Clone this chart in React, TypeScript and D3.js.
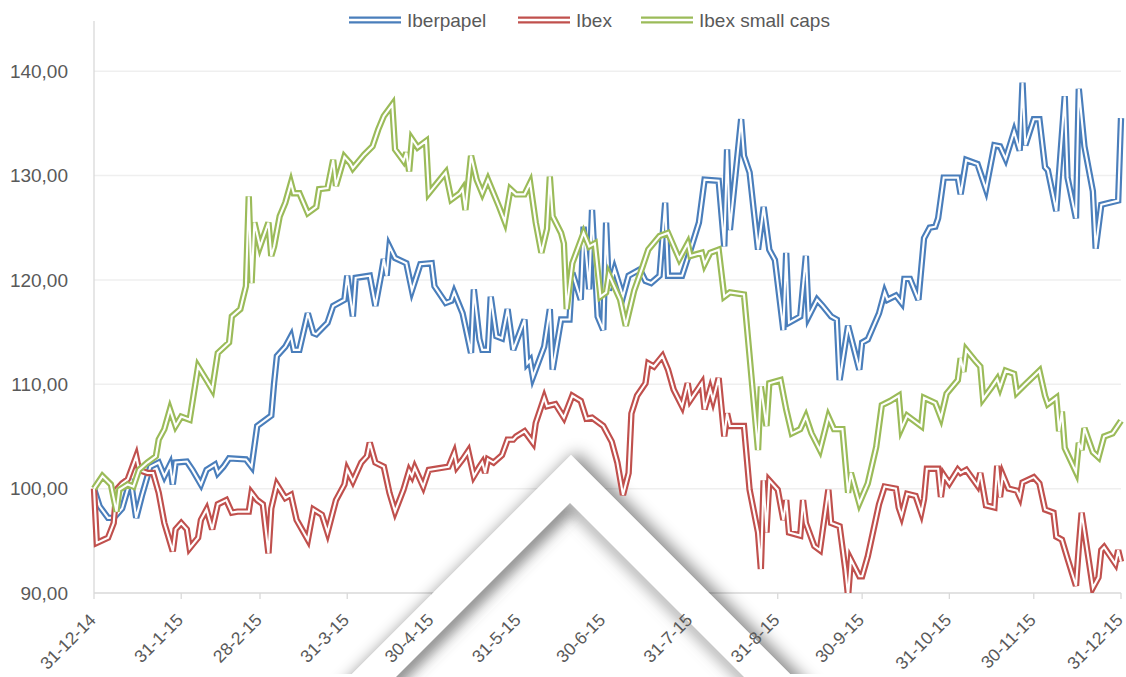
import * as d3 from "d3"
import React from "react"

// days after 31-12-2014, index value (base 100)
const iberpapel: [number, number][] = [
  [0, 100], [2, 98.3], [5, 97.2], [7, 97.2], [10, 98.1], [13, 100.9], [15, 97.2], [17, 99.3],
  [20, 102.1], [23, 102.5], [25, 101.2], [27, 102.3], [28, 100.4], [29, 102.5], [33, 102.6],
  [35, 101.8], [38, 100.4], [40, 101.8], [43, 102.3], [44, 101.5], [46, 102.1], [48, 102.9],
  [54, 102.8], [56, 102.1], [58, 106], [63, 107], [64, 110.1], [65, 112.7], [68, 113.6],
  [70, 114.6], [71, 113.3], [73, 113.3], [76, 116.8], [78, 114.9], [79, 114.8], [83, 115.9],
  [85, 117.5], [89, 118.1], [90, 120.4], [92, 116.5], [93, 120.2], [98, 120.4], [100, 117.5],
  [102, 120.4], [103, 122], [104, 120.4], [105, 123.2], [107, 122.1], [111, 121.6], [113, 119],
  [116, 121.5], [120, 121.6], [121, 119.4], [125, 117.8], [127, 118], [128, 118.8], [131, 116.8],
  [134, 113], [135, 119.1], [137, 114.3], [138, 113.3], [140, 113.3], [141, 118.4], [143, 114.6],
  [145, 114.4], [147, 117.2], [149, 113.3], [153, 116.2], [154, 112], [155, 112.3], [156, 110.7],
  [160, 113.6], [162, 117.2], [163, 111.4], [166, 116.2], [169, 116.2], [170, 120.7], [173, 118.1],
  [174, 125.1], [176, 119.1], [177, 126.7], [179, 116.5], [181, 115.2], [182, 125.5], [183, 119],
  [185, 121], [188, 118.4], [190, 120.4], [194, 121], [196, 119.9], [198, 119.7], [201, 120.4],
  [203, 127.4], [204, 120.4], [209, 120.4], [212, 122.9], [215, 125.5], [217, 129.6], [222, 129.5],
  [224, 123.2], [225, 132.5], [226, 124.8], [230, 135.4], [231, 131.9], [233, 130.3], [236, 122.9],
  [238, 127], [240, 122.9], [242, 121.9], [245, 115.2], [246, 122.6], [247, 115.9], [251, 116.5],
  [253, 122.3], [254, 116.5], [257, 118.1], [259, 117.5], [262, 116.5], [264, 116.2], [265, 110.4],
  [268, 115.6], [272, 111.4], [273, 114], [275, 114.3], [279, 116.8], [281, 118.8], [282, 118.1],
  [285, 118.5], [287, 117.8], [288, 120.1], [290, 120.1], [293, 118.1], [295, 124], [297, 125],
  [299, 125.1], [300, 125.9], [302, 129.8], [307, 129.8], [308, 128.2], [310, 131.5], [314, 131.1],
  [317, 128.7], [320, 132.9], [322, 132.8], [324, 131.6], [327, 134.2], [329, 132.4], [330, 138.9],
  [331, 132.9], [334, 135.4], [336, 135.4], [338, 130.8], [339, 130.5], [342, 126.6], [345, 137.6],
  [346, 129.8], [349, 125.9], [350, 138.3], [352, 132.8], [355, 128.5], [356, 123], [358, 127.2],
  [364, 127.6], [365, 135.5],
]

const ibex: [number, number][] = [
  [0, 100], [1, 94.8], [5, 95.3], [7, 96.7], [8, 99.9], [10, 100.5], [12, 100.9], [15, 103.1],
  [16, 101.8], [19, 101.5], [21, 101.5], [23, 99.6], [25, 96.7], [28, 94], [29, 96.1], [31, 96.7],
  [33, 96.1], [34, 94.3], [37, 95.3], [38, 97], [40, 98], [42, 96.1], [44, 98.5], [47, 98.9],
  [49, 97.7], [51, 97.8], [55, 97.8], [56, 99.6], [58, 98.9], [60, 98.5], [62, 93.8], [63, 98.1],
  [65, 100.4], [68, 99.1], [70, 99.4], [72, 97], [76, 95.1], [78, 98], [81, 97.5], [83, 95.8],
  [86, 98.9], [89, 100.4], [90, 101.8], [92, 100.7], [95, 102.5], [97, 103.1], [98, 104.4],
  [100, 102.5], [103, 102.1], [105, 99.6], [107, 97.8], [110, 99.9], [112, 101.7], [113, 101.2],
  [114, 102], [117, 100.2], [119, 101.8], [126, 102.1], [128, 103.4], [129, 102.1], [131, 102.8],
  [133, 103.6], [135, 101.2], [137, 102.1], [138, 102.5], [139, 101.5], [140, 102.8], [142, 102.5],
  [145, 103.2], [147, 104.7], [149, 104.7], [150, 105], [153, 105.5], [156, 104.4], [157, 106.3],
  [160, 108.7], [161, 107.9], [164, 108.1], [167, 106.8], [170, 108.9], [173, 108.4], [175, 106.7],
  [177, 106.8], [181, 106], [184, 104.5], [186, 102.5], [188, 99.4], [190, 101.5], [191, 107.2],
  [193, 108.9], [196, 110.1], [197, 112], [199, 111.7], [202, 112.7], [204, 111.4], [206, 109.5],
  [209, 107.9], [211, 110.1], [212, 108.5], [216, 110.1], [217, 107.6], [219, 109.5], [220, 108.5],
  [222, 110.6], [224, 105], [225, 107.2], [226, 106], [231, 106], [233, 99.9], [236, 95.8],
  [237, 92.3], [238, 100.8], [239, 95.8], [240, 100.8], [243, 99.9], [245, 97], [246, 98.9],
  [247, 95.8], [251, 95.5], [252, 98.9], [253, 96.7], [256, 94.5], [258, 94.1], [261, 99.9],
  [262, 96.7], [265, 96.4], [267, 92.3], [268, 89.7], [269, 93.2], [272, 91.6], [273, 91.6],
  [275, 93.5], [279, 98.5], [281, 100.2], [285, 100], [286, 98.2], [287, 97.4], [289, 99.5],
  [292, 99.3], [294, 97.7], [295, 99], [296, 101.9], [300, 101.9], [301, 99.2], [302, 101.3],
  [304, 100.5], [307, 101.8], [308, 101.5], [310, 101.8], [314, 100.3], [315, 101.5], [317, 98.4],
  [320, 98.2], [321, 102.2], [322, 99.2], [323, 101.3], [325, 100], [328, 99.8], [329, 99.2],
  [330, 100.6], [334, 101.1], [336, 100.5], [338, 98], [341, 97.7], [342, 95.4], [344, 95.1],
  [346, 93.3], [349, 90.7], [350, 94.4], [351, 97.7], [355, 90.5], [357, 91.5], [358, 94.1],
  [359, 94.4], [363, 92.8], [364, 94.1], [365, 93],
]

const ibexSmallCaps: [number, number][] = [
  [0, 100], [3, 101.2], [6, 100.4], [8, 97.8], [9, 99.9], [12, 100.4], [14, 100.2], [16, 101.8],
  [19, 102.5], [22, 103.1], [23, 104.7], [25, 105.7], [27, 107.6], [29, 106], [31, 106.9],
  [34, 106.6], [37, 111.7], [40, 110.4], [42, 109.5], [44, 113], [48, 114], [49, 116.5],
  [52, 117.2], [54, 119.4], [55, 128], [56, 119.7], [57, 125.5], [59, 123.2], [62, 125.5],
  [63, 122.3], [64, 123.2], [66, 126.1], [68, 127.4], [70, 129.3], [71, 128.3], [73, 128.3],
  [76, 126.4], [79, 127], [80, 128.7], [83, 128.8], [85, 131.5], [86, 129], [89, 131.8],
  [91, 131.2], [92, 130.7], [96, 132], [99, 132.8], [101, 134.4], [103, 135.7], [106, 136.8],
  [107, 132.5], [110, 131.4], [111, 132.2], [112, 130.4], [113, 133.5], [115, 132.7], [118, 133.3],
  [119, 128.3], [122, 129.3], [125, 130.3], [127, 127.7], [130, 128.3], [131, 128.7], [132, 126.7],
  [134, 131.9], [136, 129.6], [138, 128.3], [140, 129.6], [144, 127], [146, 125.6], [148, 128.7],
  [150, 128.2], [153, 128.2], [155, 129.3], [157, 125.5], [159, 122.6], [161, 124.9], [162, 129.9],
  [163, 126.1], [166, 124.5], [167, 123.5], [168, 117.2], [170, 121.6], [174, 124.5], [176, 123.2],
  [178, 123.5], [180, 118.4], [182, 118.8], [183, 120.5], [187, 118.1], [189, 115.6], [192, 119],
  [195, 121.3], [197, 122.9], [201, 124.2], [204, 124.5], [208, 122], [211, 123.5], [212, 122.3],
  [216, 122.6], [217, 121.5], [219, 122.6], [222, 122.9], [224, 118.4], [226, 118.8], [231, 118.6],
  [233, 112.7], [236, 103.7], [237, 109.8], [239, 106], [240, 110.1], [244, 110.4], [246, 107.6],
  [248, 105.3], [251, 105.7], [253, 106.9], [255, 105.3], [258, 103.7], [261, 106.9], [263, 105.7],
  [266, 105.7], [268, 99.6], [269, 101.5], [272, 98.6], [275, 100.5], [278, 104], [280, 108],
  [283, 108.4], [286, 108.9], [287, 105.8], [289, 107], [294, 106], [295, 108.7], [299, 108.2],
  [301, 106.8], [303, 109.1], [307, 110.4], [308, 112.5], [309, 111.2], [310, 113.3], [313, 112.3],
  [315, 111.7], [316, 108.6], [319, 109.7], [321, 110.5], [322, 109.7], [324, 111.3], [327, 111],
  [328, 109.2], [331, 110], [336, 111.3], [338, 108.9], [339, 108.1], [342, 108.7], [343, 105.5],
  [344, 107.4], [345, 103.9], [349, 101.6], [350, 104.4], [351, 103.7], [352, 105.8], [355, 103.5],
  [357, 103], [359, 105], [362, 105.3], [365, 106.5],
]

const seriesNames = ["Iberpapel", "Ibex", "Ibex small caps"]
const seriesColors = ["#4A7EBB", "#C0504D", "#9BBB59"]
const seriesData = [iberpapel, ibex, ibexSmallCaps]

const xTickLabels = ["31-12-14", "31-1-15", "28-2-15", "31-3-15", "30-4-15", "31-5-15", "30-6-15",
  "31-7-15", "31-8-15", "30-9-15", "31-10-15", "30-11-15", "31-12-15"]
const yTicks = [90, 100, 110, 120, 130, 140]

const W = 1126
const H = 677
const margin = { left: 94, right: 5, top: 19, bottom: 84 }
const legendX = [349, 518, 641]
const font = "'Liberation Sans', Arial, sans-serif"
const textColor = "#595959"

const start = new Date(2014, 11, 31)
const parseTick = d3.timeParse("%d-%m-%y")
const fmt = (v: number) => d3.format(".2f")(v).replace(".", ",")

const App = () => {
  const x = d3.scaleTime()
    .domain([start, d3.timeDay.offset(start, 365)])
    .range([margin.left, W - margin.right])
  const y = d3.scaleLinear()
    .domain([90, 145])
    .range([H - margin.bottom, margin.top])
  const line = d3.line<[number, number]>()
    .x(d => x(d3.timeDay.offset(start, d[0])))
    .y(d => y(d[1]))

  const bottom = y(90)
  const left = x.range()[0]
  const right = x.range()[1]

  // the folded-paper decoration at the bottom
  const outerD = "M571,455 L850,734 L292,734 Z"
  const innerD = "M570,503 L830,763 L310,763 Z"

  return (
    <svg width={W} height={H} style={{ position: "fixed", left: 0, top: 0, background: "#fff" }}>
      <defs>
        <clipPath id="plotClip">
          <rect x={left - 4} y={0} width={right - left + 8} height={bottom} />
        </clipPath>
        <clipPath id="innerClip">
          <path d={innerD} />
        </clipPath>
        <filter id="outerShadow" filterUnits="userSpaceOnUse" x={0} y={0} width={W} height={H}>
          <feGaussianBlur in="SourceAlpha" stdDeviation="8" />
          <feOffset dx="6" dy="-3" result="b" />
          <feFlood floodColor="#000" floodOpacity="0.45" />
          <feComposite in2="b" operator="in" />
          <feMerge>
            <feMergeNode />
            <feMergeNode in="SourceGraphic" />
          </feMerge>
        </filter>
        <filter id="soft" filterUnits="userSpaceOnUse" x={0} y={0} width={W} height={H}>
          <feGaussianBlur stdDeviation="7" />
        </filter>
      </defs>

      {/* gridlines */}
      {yTicks.filter(t => t > 90).map(t => (
        <line key={t} x1={left} x2={right} y1={y(t)} y2={y(t)} stroke="#EFEFEF" strokeWidth={1.5} />
      ))}

      {/* axes */}
      <line x1={left} x2={left} y1={margin.top + 2} y2={bottom} stroke="#D9D9D9" strokeWidth={1.3} />
      <line x1={left} x2={right} y1={bottom} y2={bottom} stroke="#D9D9D9" strokeWidth={1.3} />
      {xTickLabels.map(l => (
        <line key={l} x1={x(parseTick(l)!)} x2={x(parseTick(l)!)} y1={bottom} y2={bottom + 6}
          stroke="#D9D9D9" strokeWidth={1.3} />
      ))}

      {/* decoration */}
      <path d={outerD} fill="#fff" filter="url(#outerShadow)" />
      <g clipPath="url(#innerClip)">
        <path d={innerD} fill="#fff" />
        <path d="M300,773 L570,503" stroke="#555" strokeOpacity={0.75} strokeWidth={16} fill="none" filter="url(#soft)" />
        <path d="M570,503 L840,773" stroke="#777" strokeOpacity={0.55} strokeWidth={14} fill="none" filter="url(#soft)" />
      </g>

      {/* series */}
      <g clipPath="url(#plotClip)">
        {seriesData.map((s, i) => (
          <g key={seriesNames[i]}>
            <path d={line(s) ?? ""} fill="none" stroke={seriesColors[i]} strokeWidth={6.4} strokeLinejoin="miter" />
            <path d={line(s) ?? ""} fill="none" stroke="#fff" strokeWidth={2.1} strokeLinejoin="miter" />
          </g>
        ))}
      </g>

      {/* y labels */}
      {yTicks.map(t => (
        <text key={t} x={68} y={y(t)} dy="0.35em" textAnchor="end" fontFamily={font} fontSize={19} fill={textColor}>
          {fmt(t)}
        </text>
      ))}

      {/* x labels */}
      {xTickLabels.map(l => (
        <text key={l} transform={`translate(${x(parseTick(l)!) + 3},${bottom + 28}) rotate(-45)`}
          textAnchor="end" fontFamily={font} fontSize={17.5} fill={textColor}>
          {l}
        </text>
      ))}

      {/* legend */}
      {seriesNames.map((n, i) => (
        <g key={n} transform={`translate(${legendX[i]},20)`}>
          <line x1={0} x2={52} y1={0} y2={0} stroke={seriesColors[i]} strokeWidth={7} />
          <line x1={0} x2={52} y1={0} y2={0} stroke="#fff" strokeWidth={2.4} />
          <text x={58} y={0} dy="0.35em" fontFamily={font} fontSize={19} fill={textColor}>{n}</text>
        </g>
      ))}
    </svg>
  )
}

export default App
